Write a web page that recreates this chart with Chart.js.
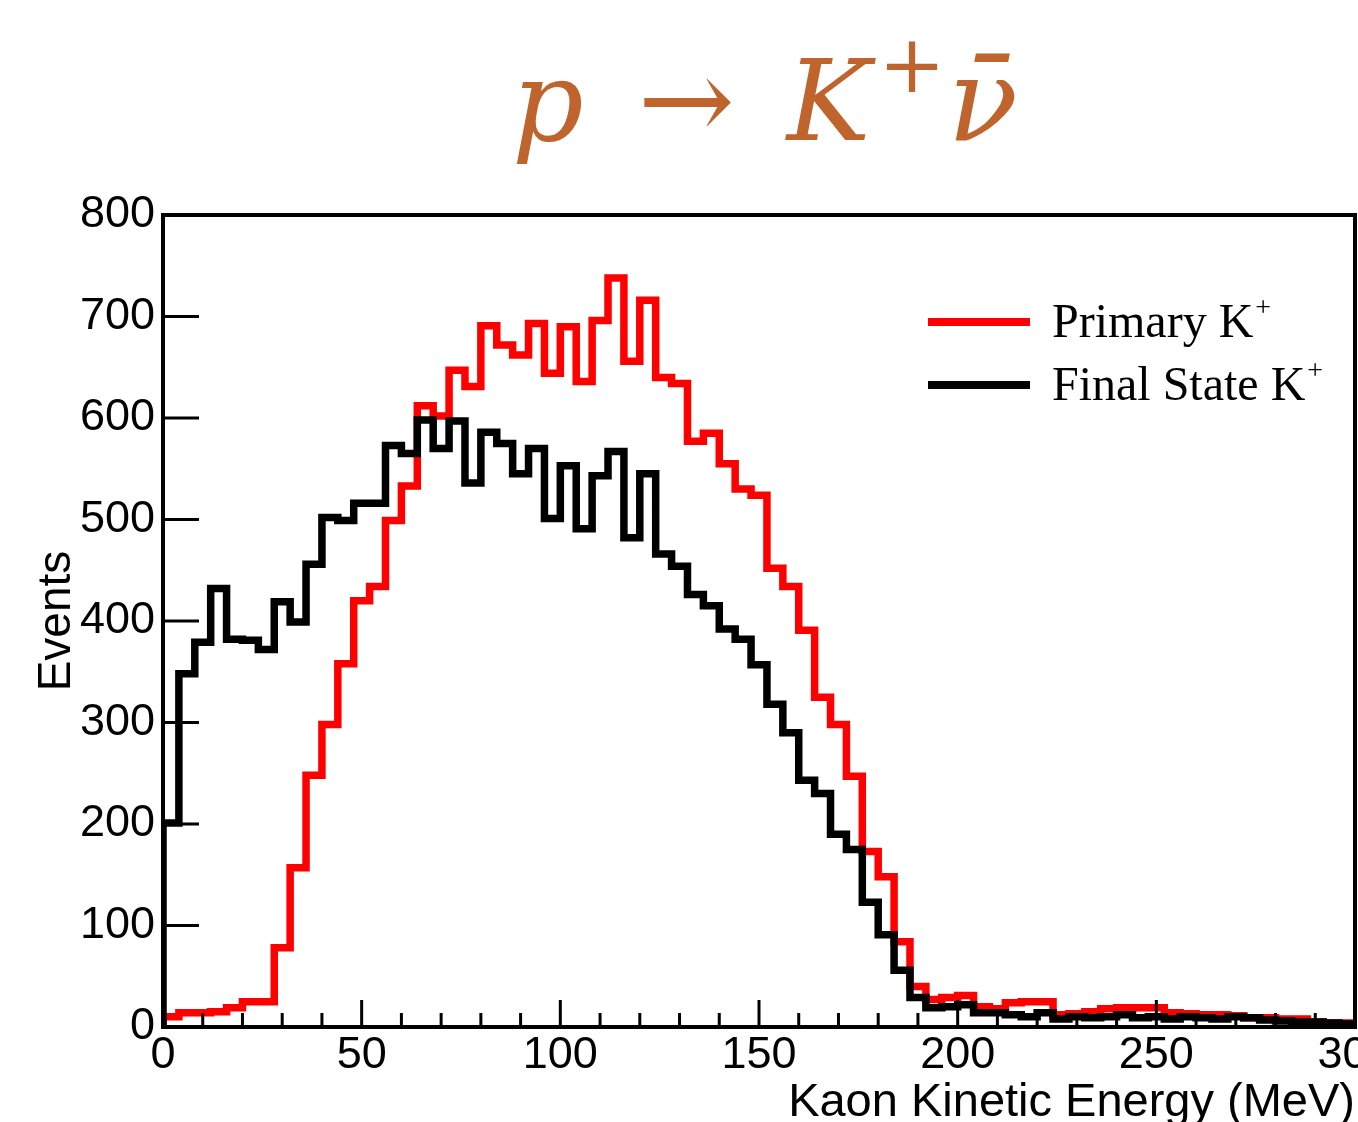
<!DOCTYPE html>
<html>
<head>
<meta charset="utf-8">
<title>p → K⁺ν̄ kaon kinetic energy</title>
<script src="https://cdn.jsdelivr.net/npm/chart.js@4.4.1/dist/chart.umd.min.js"></script>
<style>
  html, body { margin: 0; padding: 0; background: #fff; overflow: hidden; }
  canvas { display: block; }
</style>
</head>
<body>
<canvas id="chart" width="1358" height="1122"></canvas>
<script>
// histogram binning (MeV)
const BIN_WIDTH = 4;
const X_MIN = 0;
const X_MAX = 300;

// events per 4 MeV bin
const primaryK = [
  10, 14, 14, 15, 19, 25, 25, 78, 157, 248,
  298, 358, 420, 434, 499, 533, 612, 602, 647, 631,
  691, 672, 662, 693, 644, 690, 636, 696, 738, 656,
  716, 640, 634, 577, 585, 555, 530, 524, 452, 434,
  391, 325, 298, 247, 173, 148, 84, 40, 27, 29,
  31, 20, 18, 24, 25, 25, 12, 13, 15, 18,
  19, 19, 19, 14, 13, 12, 12, 11, 9, 9,
  8, 8, 5, 4, 4
];
const finalStateK = [
  201, 348, 379, 432, 382, 381, 372, 419, 399, 456,
  502, 499, 516, 516, 573, 565, 598, 570, 597, 536,
  586, 575, 545, 570, 501, 553, 491, 543, 567, 482,
  545, 466, 454, 426, 415, 392, 382, 357, 318, 290,
  243, 230, 190, 175, 123, 91, 56, 29, 19, 20,
  22, 14, 14, 12, 10, 14, 8, 10, 9, 10,
  12, 9, 10, 8, 10, 9, 8, 10, 9, 7,
  6, 5, 5, 4, 3
];

const seriesLabels = ['Primary K⁺', 'Final State K⁺'];
const seriesColors = ['#ff0000', '#000000'];
const xAxisTitle = 'Kaon Kinetic Energy (MeV)';
const yAxisTitle = 'Events';
const Y_MAX = 800;

const SANS = '"Liberation Sans", Arial, Helvetica, sans-serif';
const SERIF = '"Liberation Serif", "Times New Roman", serif';
const MATH = '"DejaVu Serif", serif';

// lower bin edges -> stepped outline
function histPoints(values) {
  const pts = [{ x: X_MIN, y: 0 }];
  values.forEach((v, i) => pts.push({ x: X_MIN + i * BIN_WIDTH, y: v }));
  pts.push({ x: X_MIN + values.length * BIN_WIDTH, y: values[values.length - 1] });
  return pts;
}

// ROOT style frame with inward ticks
const rootFrame = {
  id: 'rootFrame',
  afterDatasetsDraw(chart) {
    const { ctx, chartArea: a, scales: { x, y } } = chart;
    ctx.save();
    ctx.strokeStyle = '#000';
    ctx.lineWidth = 3;
    ctx.beginPath();
    y.ticks.forEach(t => {
      const py = y.getPixelForValue(t.value);
      ctx.moveTo(a.left, py);
      ctx.lineTo(a.left + 36, py);
    });
    for (let v = x.min; v <= x.max; v += 10) {
      const px = x.getPixelForValue(v);
      const len = v % 50 === 0 ? 27 : 14;
      ctx.moveTo(px, a.bottom);
      ctx.lineTo(px, a.bottom - len);
    }
    ctx.stroke();
    ctx.lineWidth = 4;
    ctx.strokeRect(a.left, a.top, a.right - a.left, a.bottom - a.top);
    ctx.restore();
  }
};

// draws "text⁺" with a real raised plus
function drawWithSup(ctx, label, x, y, font, supFont, supRise) {
  const base = label.replace('⁺', '');
  ctx.font = font;
  ctx.fillText(base, x, y);
  if (label.includes('⁺')) {
    const w = ctx.measureText(base).width;
    ctx.font = supFont;
    ctx.fillText('+', x + w + 2, y - supRise);
  }
}

const rootLegend = {
  id: 'rootLegend',
  afterDraw(chart) {
    const { ctx, chartArea: a } = chart;
    const x0 = a.right - 427;
    const y0 = a.top + 107;
    ctx.save();
    chart.data.datasets.forEach((ds, i) => {
      const yy = y0 + i * 63;
      ctx.strokeStyle = ds.borderColor;
      ctx.lineWidth = 8;
      ctx.beginPath();
      ctx.moveTo(x0, yy);
      ctx.lineTo(x0 + 102, yy);
      ctx.stroke();
      ctx.fillStyle = '#000';
      ctx.textBaseline = 'alphabetic';
      ctx.textAlign = 'left';
      drawWithSup(ctx, ds.label, x0 + 124, yy + 15, '48px ' + SERIF, '28px ' + SERIF, 21);
    });
    ctx.restore();
  }
};

// figure title p → K⁺ν̄
const reactionTitle = {
  id: 'reactionTitle',
  afterDraw(chart) {
    const { ctx, chartArea: a } = chart;
    const baseline = 140;
    const pieces = [
      { t: 'p', f: 'italic 112px ' + MATH, dy: 0, gap: 54 },
      { t: '→', f: '116px ' + MATH, dy: 0, gap: 52 },
      { t: 'K', f: 'italic 112px ' + MATH, dy: 0, gap: 8 },
      { t: '+', f: '80px ' + MATH, dy: -48, gap: 2 },
      { t: 'ν̄', f: 'italic 116px ' + MATH, dy: 0, gap: 0 }
    ];
    ctx.save();
    let total = 0;
    pieces.forEach(p => { ctx.font = p.f; p.w = ctx.measureText(p.t).width; total += p.w + p.gap; });
    let x = (a.left + a.right) / 2 + 6 - total / 2;
    ctx.fillStyle = '#c0642d';
    ctx.textBaseline = 'alphabetic';
    ctx.textAlign = 'left';
    pieces.forEach(p => {
      ctx.font = p.f;
      ctx.fillText(p.t, x, baseline + p.dy);
      x += p.w + p.gap;
    });
    ctx.restore();
  }
};

const tickFont = { family: SANS, size: 45 };

new Chart(document.getElementById('chart'), {
  type: 'line',
  data: {
    datasets: [
      { label: seriesLabels[0], data: histPoints(primaryK), borderColor: seriesColors[0], order: 1 },
      { label: seriesLabels[1], data: histPoints(finalStateK), borderColor: seriesColors[1], order: 0 }
    ]
  },
  options: {
    responsive: false,
    animation: false,
    devicePixelRatio: 1,
    layout: { padding: { left: 0, top: 215, right: 3, bottom: 0 }, autoPadding: false },
    elements: {
      point: { radius: 0 },
      line: { borderWidth: 7.5, stepped: 'before', fill: false, tension: 0, borderJoinStyle: 'miter', borderCapStyle: 'butt' }
    },
    plugins: {
      legend: { display: false },
      tooltip: { enabled: false },
      title: { display: false }
    },
    scales: {
      x: {
        type: 'linear',
        min: X_MIN,
        max: X_MAX,
        grid: { display: false, drawTicks: false },
        border: { display: false },
        ticks: { stepSize: 50, autoSkip: false, maxRotation: 0, padding: 2, color: '#000', font: tickFont },
        title: { display: true, text: xAxisTitle, align: 'end', color: '#000', padding: 0,
                 font: { family: SANS, size: 47, lineHeight: 0.8 } },
        afterFit(s) { s.height = 95; s.paddingLeft = 0; s.paddingRight = 0; }
      },
      y: {
        min: 0,
        max: Y_MAX,
        grid: { display: false, drawTicks: false },
        border: { display: false },
        ticks: { stepSize: 100, autoSkip: false, padding: 8, color: '#000', font: tickFont },
        title: { display: true, text: yAxisTitle, color: '#000', padding: { top: 30, bottom: 0 },
                 font: { family: SANS, size: 46, lineHeight: 1.2 } },
        afterFit(s) { s.width = 163; s.paddingTop = 0; s.paddingBottom = 0; }
      }
    }
  },
  plugins: [rootFrame, rootLegend, reactionTitle]
});
</script>
</body>
</html>
